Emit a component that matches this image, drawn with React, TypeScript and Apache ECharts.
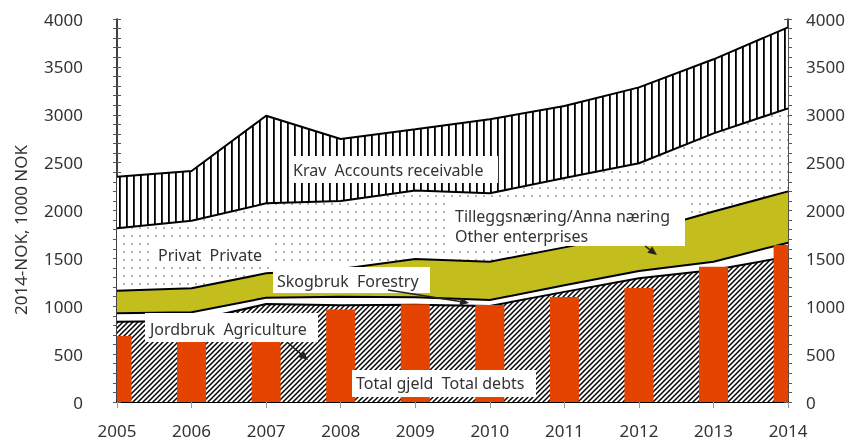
import React, { useEffect, useRef } from 'react';
import * as echarts from 'echarts';

const years = ['2005', '2006', '2007', '2008', '2009', '2010', '2011', '2012', '2013', '2014'];
// stacked components (1000 NOK, 2014-NOK)
const agriculture = [839, 845, 1023, 1010, 1015, 1003, 1150, 1292, 1379, 1518];
const forestry = [87, 92, 66, 90, 80, 62, 70, 76, 86, 146];
const otherEnterprises = [236, 250, 255, 290, 398, 400, 395, 402, 525, 536];
const privateDebt = [652, 706, 731, 710, 717, 715, 725, 723, 816, 867];
const accountsReceivable = [539, 519, 915, 647, 638, 773, 751, 793, 773, 846];
const totalDebts = [689, 780, 870, 966, 1020, 1013, 1097, 1191, 1413, 1640];

const yMin = 0;
const yMax = 4000;
const yInterval = 500;

const FONT = '"Noto Sans", sans-serif';
const TXT = '#333333';
const BAR = '#E54400';
const YELLOW = '#C3BD1D';

function makeCanvas(w: number, h: number, draw: (ctx: CanvasRenderingContext2D) => void) {
  const c = document.createElement('canvas');
  c.width = w;
  c.height = h;
  const ctx = c.getContext('2d')!;
  ctx.fillStyle = '#ffffff';
  ctx.fillRect(0, 0, w, h);
  draw(ctx);
  return c;
}

function pattern(c: HTMLCanvasElement) {
  return { image: c, repeat: 'repeat', imageWidth: c.width, imageHeight: c.height } as any;
}

export default function App() {
  const ref = useRef<HTMLDivElement>(null);
  useEffect(() => {
    if (!ref.current) return;
    const chart = echarts.init(ref.current, null, { renderer: 'svg' });

    const stripes = makeCanvas(7, 7, (ctx) => {
      ctx.fillStyle = '#000';
      ctx.fillRect(0, 0, 1.8, 7);
    });
    const dots = makeCanvas(8, 8, (ctx) => {
      ctx.fillStyle = '#8e8e8e';
      ctx.beginPath();
      ctx.arc(4, 4, 0.9, 0, Math.PI * 2);
      ctx.fill();
    });
    const hatch = makeCanvas(5, 5, (ctx) => {
      ctx.strokeStyle = '#000';
      ctx.lineWidth = 1.5;
      for (let k = -1; k <= 1; k++) {
        ctx.beginPath();
        ctx.moveTo(k * 5 - 1, 6);
        ctx.lineTo(k * 5 + 6, -1);
        ctx.stroke();
      }
    });

    const area = (name: string, data: number[], fill: any) => ({
      name,
      type: 'line',
      stack: 'total',
      data,
      symbol: 'none',
      z: 2,
      lineStyle: { color: '#000', width: 2 },
      areaStyle: { color: fill, opacity: 1 },
    });

    const textStyle = { fill: TXT, font: `16px ${FONT}`, verticalAlign: 'middle', align: 'left' };
    const box = (x: number, y: number, w: number, h: number) => ({
      type: 'rect', z: 100, shape: { x, y, width: w, height: h }, style: { fill: '#fff' },
    });
    const label = (x: number, y: number, text: string) => ({
      type: 'text', z: 101, x, y, style: { ...textStyle, text },
    });
    const arrow = (x1: number, y1: number, x2: number, y2: number) => {
      const ang = Math.atan2(y2 - y1, x2 - x1);
      const len = 9;
      const wid = 4;
      const bx = x2 - len * Math.cos(ang);
      const by = y2 - len * Math.sin(ang);
      const px = -Math.sin(ang) * wid;
      const py = Math.cos(ang) * wid;
      return [
        { type: 'line', z: 102, shape: { x1, y1, x2: bx, y2: by }, style: { stroke: '#222', lineWidth: 1.5 } },
        {
          type: 'polygon', z: 102,
          shape: { points: [[x2, y2], [bx + px, by + py], [bx - px, by - py]] },
          style: { fill: '#222' },
        },
      ];
    };

    const yAxisBase = (position: string, inside: boolean, showLabel: boolean, margin: number) => ({
      type: 'value',
      position,
      min: yMin,
      max: yMax,
      interval: yInterval,
      axisLine: { show: !inside, lineStyle: { color: '#000', width: 1.5 } },
      axisTick: { show: true, inside, length: 4, lineStyle: { color: '#555' } },
      minorTick: { show: true, splitNumber: 5, length: 4, lineStyle: { color: '#555' } },
      splitLine: { show: false },
      axisLabel: {
        show: showLabel,
        color: TXT,
        fontFamily: FONT,
        fontSize: 17,
        margin,
        padding: [9, 0, 0, 0],
        formatter: (v: number) => String(v),
      },
    });

    const option: any = {
      animation: false,
      grid: { left: 117, right: 59, top: 19, bottom: 39, containLabel: false },
      xAxis: {
        type: 'category',
        data: years,
        boundaryGap: false,
        axisLine: { lineStyle: { color: '#000', width: 2 } },
        axisTick: { show: true, length: 6, lineStyle: { color: '#999' } },
        axisLabel: { color: TXT, fontFamily: FONT, fontSize: 17, margin: 20 },
        splitLine: { show: false },
      },
      yAxis: [
        yAxisBase('left', false, true, 34),
        yAxisBase('right', false, true, 18),
        yAxisBase('left', true, false, 8),
        yAxisBase('right', true, false, 8),
      ],
      series: [
        area('Jordbruk Agriculture', agriculture, pattern(hatch)),
        area('Skogbruk Forestry', forestry, '#ffffff'),
        area('Tilleggsnæring/Anna næring Other enterprises', otherEnterprises, YELLOW),
        area('Privat Private', privateDebt, pattern(dots)),
        area('Krav Accounts receivable', accountsReceivable, pattern(stripes)),
        {
          name: 'Total gjeld Total debts',
          type: 'custom',
          z: 3,
          data: totalDebts.map((v, i) => [i, v]),
          encode: { x: 0, y: 1 },
          renderItem: (params: any, api: any) => {
            const top = api.coord([api.value(0), api.value(1)]);
            const base = api.coord([api.value(0), 0]);
            const w = 29;
            const cs = params.coordSys;
            const rect = echarts.graphic.clipRectByRect(
              { x: top[0] - w / 2, y: top[1], width: w, height: base[1] - top[1] },
              { x: cs.x, y: cs.y, width: cs.width, height: cs.height }
            );
            return rect && { type: 'rect', shape: rect, style: { fill: BAR } };
          },
        },
      ],
      graphic: [
        {
          type: 'text', z: 101, x: 20, y: 230, rotation: Math.PI / 2,
          style: { text: '2014-NOK, 1000 NOK', fill: TXT, font: `17px ${FONT}`, align: 'center', verticalAlign: 'middle' },
        },
        box(290, 156, 208, 27),
        label(293, 170, 'Krav  Accounts receivable'),
        box(152, 243, 122, 23),
        label(158, 255, 'Privat  Private'),
        box(450, 202, 235, 44),
        label(455, 216, 'Tilleggsnæring/Anna næring'),
        label(455, 236, 'Other enterprises'),
        box(273, 267, 157, 26),
        label(277, 281, 'Skogbruk  Forestry'),
        box(145, 313, 173, 29),
        label(150, 329, 'Jordbruk  Agriculture'),
        box(352, 370, 184, 27),
        label(356, 383, 'Total gjeld  Total debts'),
        ...arrow(388, 290, 469, 303),
        ...arrow(288, 343, 308, 360),
        ...arrow(645, 246, 657, 255),
      ],
    };
    chart.setOption(option);
    return () => chart.dispose();
  }, []);
  return <div ref={ref} style={{ position: 'fixed', left: 0, top: 0, width: 848, height: 441 }} />;
}
